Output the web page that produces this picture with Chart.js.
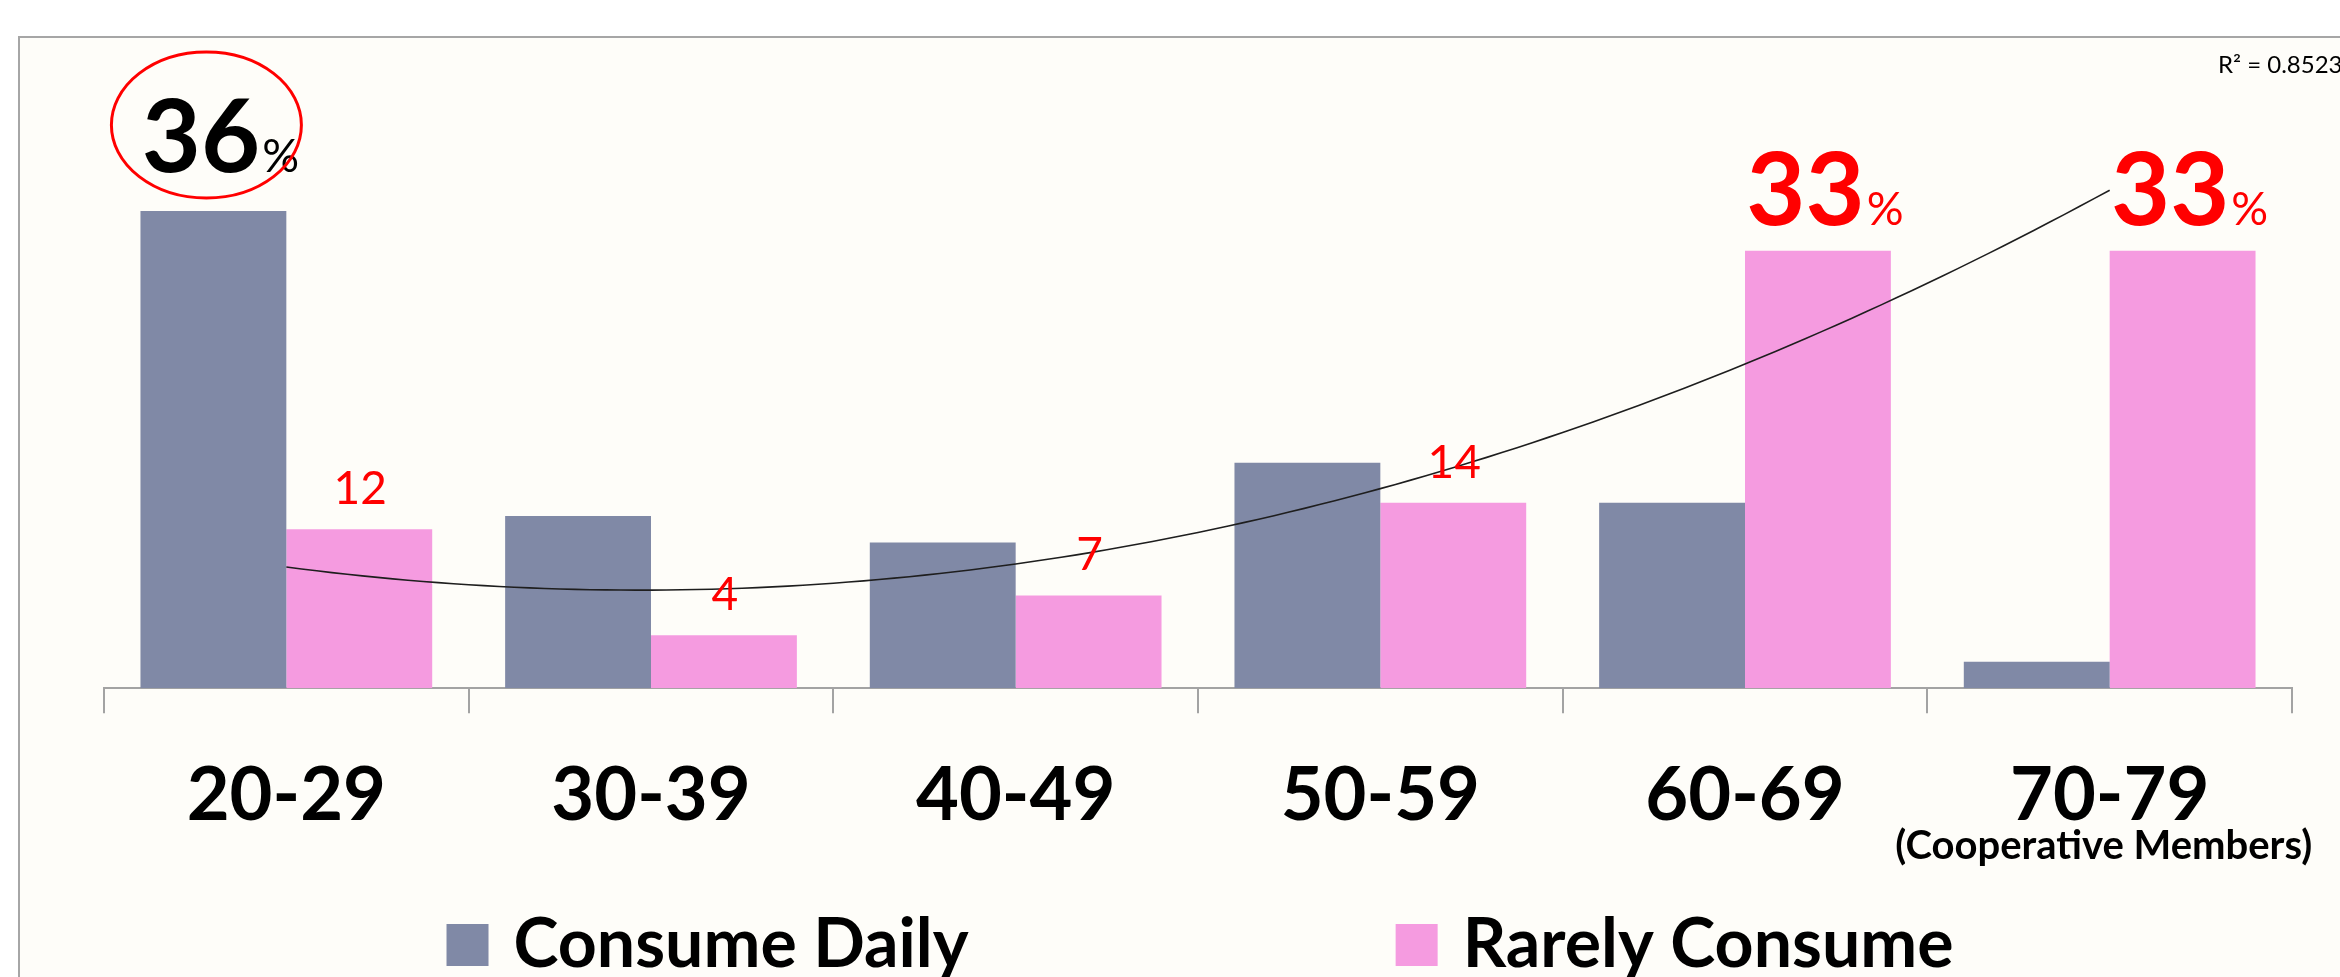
<!DOCTYPE html>
<html>
<head>
<meta charset="utf-8">
<title>Consumption by age group</title>
<script src="https://cdn.jsdelivr.net/npm/chart.js@4.4.1/dist/chart.umd.min.js"></script>
<style>
    html, body { margin: 0; padding: 0; background: #fff; overflow: hidden; }
    #frame { position: absolute; left: 18px; top: 36px; width: 2400px; height: 1100px; background: #fefdf9; border: 2px solid #a6a6a6; }
    #chart { position: absolute; left: 0; top: 0; }
</style>
</head>
<body>
<div id="frame"></div>
<canvas id="chart" width="2360" height="1010"></canvas>
<script>
// --- DATA ---
const categories = ['20-29', '30-39', '40-49', '50-59', '60-69', '70-79'];
const consumeDaily = [36, 13, 11, 17, 14, 2];
const rarelyConsume = [12, 4, 7, 14, 33, 33];
const seriesNames = ['Consume Daily', 'Rarely Consume'];
const lastCategoryNote = '(Cooperative Members)';
const rSquaredText = 'R\u00b2 = 0.8523';

// which bars get the big "NN%" label (per dataset)
const bigLabels = [[0], [4, 5]];

const FONT = 'Lato, "Open Sans", sans-serif';
const RED = '#ff0000';

// least squares y = a + b*x + c*x^2 with x = 1..n (same as an Excel poly trendline)
function quadFit(ys) {
    const s = [0, 0, 0, 0, 0], t = [0, 0, 0];
    ys.forEach((y, i) => {
        const x = i + 1;
        for (let k = 0; k < 5; k++) s[k] += Math.pow(x, k);
        for (let k = 0; k < 3; k++) t[k] += y * Math.pow(x, k);
    });
    const m = [[s[0], s[1], s[2], t[0]], [s[1], s[2], s[3], t[1]], [s[2], s[3], s[4], t[2]]];
    for (let i = 0; i < 3; i++) {
        for (let j = i + 1; j < 3; j++) {
            const f = m[j][i] / m[i][i];
            for (let k = i; k < 4; k++) m[j][k] -= f * m[i][k];
        }
    }
    const c = [0, 0, 0];
    for (let i = 2; i >= 0; i--) {
        let v = m[i][3];
        for (let k = i + 1; k < 3; k++) v -= m[i][k] * c[k];
        c[i] = v / m[i][i];
    }
    return c;
}

// --- trend line for "Rarely Consume" ---
const trendPlugin = {
    id: 'trend',
    afterDatasetsDraw(chart) {
        const { ctx, scales: { x, y } } = chart;
        const [a, b, c] = quadFit(rarelyConsume);
        const n = rarelyConsume.length;
        const x0 = x.getPixelForValue(0);
        const step = x.getPixelForValue(1) - x0;
        ctx.save();
        ctx.beginPath();
        for (let k = 0; k <= 120; k++) {
            const xv = 1 + (n - 1) * k / 120;
            const px = x0 + (xv - 1) * step;
            const py = y.getPixelForValue(a + b * xv + c * xv * xv);
            if (k === 0) ctx.moveTo(px, py); else ctx.lineTo(px, py);
        }
        ctx.strokeStyle = '#1e1e1e';
        ctx.lineWidth = 1.6;
        ctx.stroke();
        ctx.restore();
    }
};

// --- value labels ---
const labelPlugin = {
    id: 'valueLabels',
    afterDatasetsDraw(chart) {
        const ctx = chart.ctx;
        ctx.save();
        ctx.textBaseline = 'alphabetic';
        chart.data.datasets.forEach((ds, di) => {
            chart.getDatasetMeta(di).data.forEach((bar, i) => {
                const v = String(ds.data[i]);
                const big = bigLabels[di].includes(i);
                if (big) {
                    const color = di === 0 ? '#000' : RED;
                    const lift = di === 0 ? 39 : 26;
                    ctx.font = `bold 102px ${FONT}`;
                    const wn = ctx.measureText(v).width;
                    ctx.font = `46px ${FONT}`;
                    const wp = ctx.measureText('%').width;
                    const left = bar.x + 7 - (wn + wp + 2) / 2;
                    const base = bar.y - lift;
                    ctx.fillStyle = color;
                    ctx.textAlign = 'left';
                    ctx.font = `bold 102px ${FONT}`;
                    ctx.fillText(v, left, base);
                    ctx.font = `46px ${FONT}`;
                    ctx.fillText('%', left + wn + 2, base);
                    if (di === 0) {
                        ctx.beginPath();
                        ctx.ellipse(bar.x - 7, bar.y - 86, 95, 73, 0, 0, Math.PI * 2);
                        ctx.strokeStyle = RED;
                        ctx.lineWidth = 3;
                        ctx.stroke();
                    }
                } else if (di === 1) {
                    ctx.font = `46px ${FONT}`;
                    ctx.fillStyle = RED;
                    ctx.textAlign = 'center';
                    ctx.fillText(v, bar.x + 1, bar.y - 25);
                }
            });
        });
        ctx.restore();
    }
};

// --- extra texts + legend ---
const extrasPlugin = {
    id: 'extras',
    afterDraw(chart) {
        const { ctx, chartArea, scales: { x } } = chart;
        ctx.save();
        ctx.textBaseline = 'alphabetic';
        ctx.fillStyle = '#000';

        // R² note
        ctx.font = `24px ${FONT}`;
        ctx.textAlign = 'left';
        ctx.fillText(rSquaredText, chartArea.right - 74, 73);

        // note under the last category
        ctx.font = `bold 40px ${FONT}`;
        ctx.textAlign = 'center';
        ctx.fillText(lastCategoryNote, x.getPixelForValue(categories.length - 1) - 6, 859);

        // legend
        ctx.font = `bold 68px ${FONT}`;
        ctx.textAlign = 'left';
        const box = 42, gap = 25, between = 427;
        const widths = chart.data.datasets.map(ds => ctx.measureText(ds.label).width);
        const total = 2 * (box + gap) + widths[0] + between + widths[1];
        let cx = (chartArea.left + chartArea.right) / 2 - total / 2 + 2;
        chart.data.datasets.forEach((ds, i) => {
            ctx.fillStyle = ds.backgroundColor;
            ctx.fillRect(cx, 924, box, box);
            ctx.fillStyle = '#000';
            ctx.fillText(ds.label, cx + box + gap, 967);
            cx += box + gap + widths[i] + between;
        });
        ctx.restore();
    }
};

new Chart(document.getElementById('chart'), {
    type: 'bar',
    data: {
        labels: categories,
        datasets: [
            { label: seriesNames[0], data: consumeDaily, backgroundColor: '#8089a6' },
            { label: seriesNames[1], data: rarelyConsume, backgroundColor: '#f59be0' }
        ]
    },
    options: {
        responsive: false,
        animation: false,
        datasets: { bar: { categoryPercentage: 0.8, barPercentage: 1.0 } },
        layout: { padding: { top: 158, left: 104, right: 68, bottom: 130 } },
        plugins: { legend: { display: false }, tooltip: { enabled: false } },
        scales: {
            x: {
                grid: { offset: true, drawOnChartArea: false, drawTicks: true, tickLength: 25, color: '#a3a3a3', lineWidth: 2 },
                border: { display: true, color: '#a3a3a3', width: 2 },
                ticks: { color: '#000', padding: 39, font: { family: FONT, size: 74, weight: 'bold' } }
            },
            y: { display: false, min: 0, max: 40 }
        }
    },
    plugins: [trendPlugin, labelPlugin, extrasPlugin]
});
</script>
</body>
</html>
